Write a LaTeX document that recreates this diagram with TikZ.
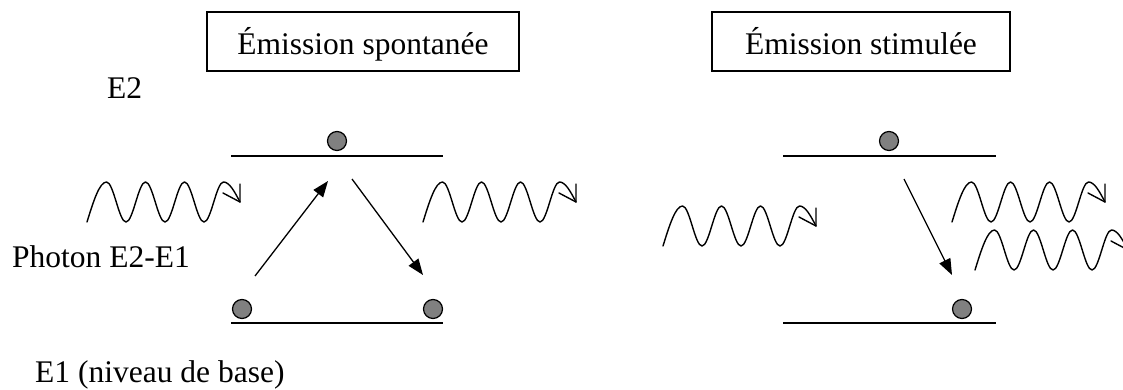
\documentclass[tikz,border=0pt]{standalone}
\usepackage{fontspec}
\setmainfont{Liberation Serif}
\usetikzlibrary{arrows.meta}
\definecolor{elgray}{HTML}{808080}
\begin{document}
\begin{tikzpicture}[x=1pt,y=-1pt,
  txt/.style={font=\fontsize{31.5}{36}\selectfont},
  level/.style={line width=1.8pt},
  electron/.style={circle,draw=black,line width=1.2pt,fill=elgray,minimum size=19pt,inner sep=0pt},
  transition/.style={line width=1.3pt,-{Triangle[length=16pt,width=12pt]}},
  titlebox/.style={txt,draw,line width=1.8pt,minimum height=59pt,text height=30pt,text depth=3pt,inner sep=0pt},
  lbl/.style={txt,anchor=base west,inner sep=0pt},
  wavestroke/.style={line width=1.4pt,line join=round,line cap=round},
  photon/.pic={
    \draw[wavestroke] (0,0) sin (19.5,-40) cos (29.25,-20) sin (39,0) cos (48.75,-20)
      sin (58.5,-40) cos (68.25,-20) sin (78,0) cos (87.75,-20)
      sin (97.5,-40) cos (107.25,-20) sin (117,0) cos (126.75,-20)
      sin (136.5,-40) cos (153,-20);
    \draw[wavestroke] (153,-38) -- (153,-20) -- (136,-29);
  }
]
\clip (0,0) rectangle (1123,390);

% title boxes
\node[titlebox,minimum width=312pt] (spont) at (363,41.5) {Émission spontanée};
\node[titlebox,minimum width=298pt] (stim) at (861,41.5) {Émission stimulée};

% labels
\node[lbl] (e2lbl) at (107,99) {E2};
\node[lbl] (photlbl) at (12,267) {Photon E2-E1};
\node[lbl] (e1lbl) at (35,382) {E1 (niveau de base)};

% left diagram levels
\coordinate (la2) at (231,156); \coordinate (lb2) at (443,156);
\coordinate (la1) at (231,323); \coordinate (lb1) at (443,323);
\draw[level] (la2) -- (lb2);
\draw[level] (la1) -- (lb1);
% right diagram levels
\coordinate (ra2) at (783,156); \coordinate (rb2) at (996,156);
\coordinate (ra1) at (783,323); \coordinate (rb1) at (996,323);
\draw[level] (ra2) -- (rb2);
\draw[level] (ra1) -- (rb1);

% electrons
\node[electron] (sptop) at (337,141) {};
\node[electron] (spbl) at (242,309) {};
\node[electron] (spbr) at (433,309) {};
\node[electron] (sttop) at (889,141) {};
\node[electron] (stbot) at (962,309) {};

% transitions
\coordinate (up0) at (255,276); \coordinate (up1) at (328,181);
\coordinate (dn0) at (352,179); \coordinate (dn1) at (423,275);
\coordinate (sd0) at (904,179); \coordinate (sd1) at (952,275);
\draw[transition] (up0) -- (up1);
\draw[transition] (dn0) -- (dn1);
\draw[transition] (sd0) -- (sd1);

% photons
\pic (pin) at (87,222) {photon};
\pic (pout) at (423,222) {photon};
\pic (sin) at (663,246) {photon};
\pic (sout1) at (952,222) {photon};
\pic (sout2) at (975,270) {photon};
\end{tikzpicture}
\end{document}
